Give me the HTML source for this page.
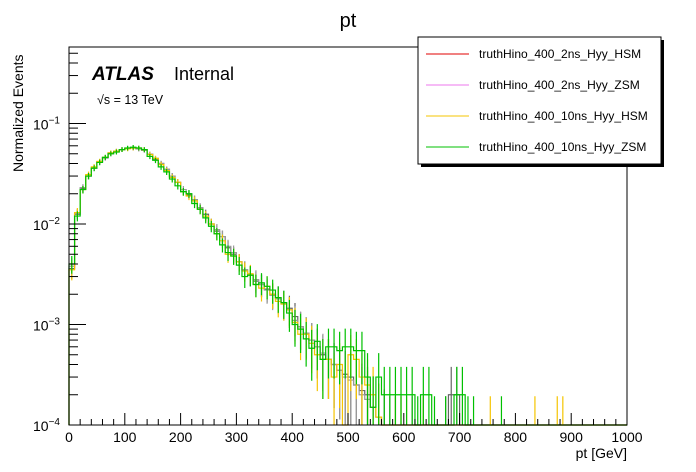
<!DOCTYPE html>
<html><head><meta charset="utf-8"><style>
html,body{margin:0;padding:0;background:#fff}
svg{display:block;font-family:"Liberation Sans",sans-serif}
</style></head><body>
<svg id="c" width="696" height="472" viewBox="0 0 696 472">
<rect x="0" y="0" width="696" height="472" fill="#fff"/>
<text x="348" y="27" font-size="20" text-anchor="middle">pt</text>
<g id="marks"></g>
<g id="axes"></g>
<rect x="69" y="47" width="558" height="378" fill="none" stroke="#000" stroke-width="1"/>
<text x="92" y="80" font-size="19" font-weight="bold" font-style="italic">ATLAS</text>
<text x="174" y="80" font-size="18">Internal</text>
<text x="97" y="104" font-size="12.5">√s = 13 TeV</text>
<text transform="translate(23,172) rotate(-90)" font-size="14">Normalized Events</text>
<text x="627" y="458" font-size="14" text-anchor="end">pt [GeV]</text>
<g>
<rect x="421" y="40" width="243" height="127" fill="#000"/>
<rect x="418" y="37" width="243" height="127" fill="#fff" stroke="#000"/>
<g id="leg"></g>
</g>
</svg>
<script>
const binWidth = 10;
// values in units of 1e-3, 10 GeV bins starting at 0
const green = [4,12,22,30,36,41,46,50,52,55,57,58,57,55,47,43,37,33,28,24,21,20,16,14,11.5,9.5,8,6.2,5.2,4.8,3.9,3.0,3.1,2.5,2.6,2.4,2.2,1.85,1.65,1.3,1.0,0.9,0.72,0.58,0.68,0.45,0.6,0.6,0.55,0.6,0.6,0.55,0.55,0.3,0.15,0.3,0.2,0.2,0.2,0.2,0.2,0.2,0.08,0.2,0.2,0.08,0,0.08,0,0.2,0.2,0.08,0.08,0,0,0,0,0.08];
const yellow = [3.5,13,22,31,37,42,46,51,53,55,56,57,57,55,49,45,39,34,29,26,21,19,17,14,12,10,8,6.8,5,4.8,4.2,3.4,3.2,2.5,2.3,2.4,2.0,1.7,1.6,1.4,1.05,0.8,0.8,0.65,0.5,0.45,0.45,0.3,0.4,0,0.5,0.45,0.3,0.25,0.2,0.12,0,0,0.08,0.08,0.08,0,0,0.08,0,0,0,0,0,0,0,0,0,0,0,0.08,0,0,0,0,0,0,0,0.08,0,0,0,0.08,0.08];
const red = [3.6,12.5,22.5,30,36,41.5,45.5,51,53,55,56.5,57,56,55,49.5,44,40,35,30,26,21,19.5,17.5,14.5,12.5,10,8.5,7.5,5.8,5,4.2,3.5,3.1,2.7,2.5,2.25,2.0,1.85,1.65,1.45,1.2,0.95,0.82,0.7,0.6,0.5,0.45,0.4,0.35,0.32,0.3,0.25,0.22,0.2,0.15,0.12,0.1,0.08,0.08,0,0,0.08,0,0,0,0,0,0.08,0.2,0.2];
const pink = [3.8,12.7,23,30,36,41.8,46,50,53,55,56.5,57,56,54,49.5,45,40,35,30,26,22,20,17.5,14.5,12,10,8.8,7.5,6,5.2,4.2,3.5,3.1,2.8,2.5,2.2,1.95,1.8,1.6,1.4,1.1,0.95,0.82,0.7,0.6,0.52,0.45,0.4,0.35,0.3,0.28,0.25,0.2,0.18,0.15,0.12,0.1,0.08,0,0.08,0,0,0,0.08];
const xTicks = [0,100,200,300,400,500,600,700,800,900,1000];
const yExps = [-4,-3,-2,-1];
const legendLabels = ["truthHino_400_2ns_Hyy_HSM","truthHino_400_2ns_Hyy_ZSM","truthHino_400_10ns_Hyy_HSM","truthHino_400_10ns_Hyy_ZSM"];
const legendColors = ["#e00000","#ee77ee","#f5c400","#00c000"];

const NS="http://www.w3.org/2000/svg";
const X0=69,X1=627,Y0=425,DEC=100.5;
function sx(v){return X0+(v/1000)*(X1-X0);}
function sy(v){ if(v<=0) return Y0; let y=Y0-(Math.log10(v)+4)*DEC; return Math.min(Y0,Math.max(47,y)); }
function mk(tag,attrs,parent){const e=document.createElementNS(NS,tag);for(const k in attrs)e.setAttribute(k,attrs[k]);parent.appendChild(e);return e;}

const marks=document.getElementById('marks');
function drawHist(arr,color,name){
  const g=mk('g',{},marks);
  
  
  let d='M'+sx(0)+','+Y0;
  const nb=1000/binWidth;
  for(let i=0;i<nb;i++){
    const v=(i<arr.length?arr[i]:0)*1e-3;
    const y=sy(v);
    d+=' L'+sx(i*binWidth)+','+y+' L'+sx((i+1)*binWidth)+','+y;
  }
  const p=mk('path',{d:d,fill:'none',stroke:color,'stroke-width':1.2},g);
  
  
  let ed='';
  for(let i=0;i<arr.length;i++){
    const v=arr[i]*1e-3; if(v<=0) continue;
    const err=Math.sqrt(v*1.6e-4);
    const xc=sx((i+0.5)*binWidth);
    ed+=' M'+xc+','+sy(v-err>0?v-err:0)+' L'+xc+','+sy(v+err);
  }
  const e=mk('path',{d:ed,fill:'none',stroke:color,'stroke-width':1.2},g);
  
  
}
drawHist(red,'#666','hist-2ns-hsm');
drawHist(pink,'#999','hist-2ns-zsm');
drawHist(yellow,'#f5c400','hist-10ns-hsm');
drawHist(green,'#00c000','hist-10ns-zsm');

const ax=document.getElementById('axes');
for(let v=0;v<=1000;v+=20){
  const major=v%100===0;
  const t=mk('line',{x1:sx(v),x2:sx(v),y1:Y0,y2:Y0-(major?12:6),stroke:'#000'},ax);
  
  
}
xTicks.forEach(v=>{
  const t=mk('text',{x:sx(v),y:442,'font-size':14,'text-anchor':'middle'},ax);
  t.textContent=String(v);
  
  
});
for(let e=-4;e<0;e++){
  for(let m=1;m<10;m++){
    const v=m*Math.pow(10,e); const y=Y0-(Math.log10(v)+4)*DEC;
    if(y<47) continue;
    const t=mk('line',{x1:X0,x2:X0+(m===1?17:9),y1:y,y2:y,stroke:'#000'},ax);
    
    
  }
}
yExps.forEach(e=>{
  const y=Y0-(e+4)*DEC;
  const t=mk('text',{x:60,y:y+6,'font-size':14,'text-anchor':'end'},ax);
  t.textContent='10';
  const s=mk('tspan',{dy:-6,'font-size':10},t);
  s.textContent='\u2212'+(-e);
  
  
});

const leg=document.getElementById('leg');
legendLabels.forEach((lab,i)=>{
  const y=54+i*31;
  const l=mk('line',{x1:426,x2:469,y1:y,y2:y,stroke:legendColors[i],'stroke-width':1},leg);
  
  
  const t=mk('text',{x:479,y:y+4,'font-size':12},leg);
  t.textContent=lab;
  
  
});
</script>
</body></html>
